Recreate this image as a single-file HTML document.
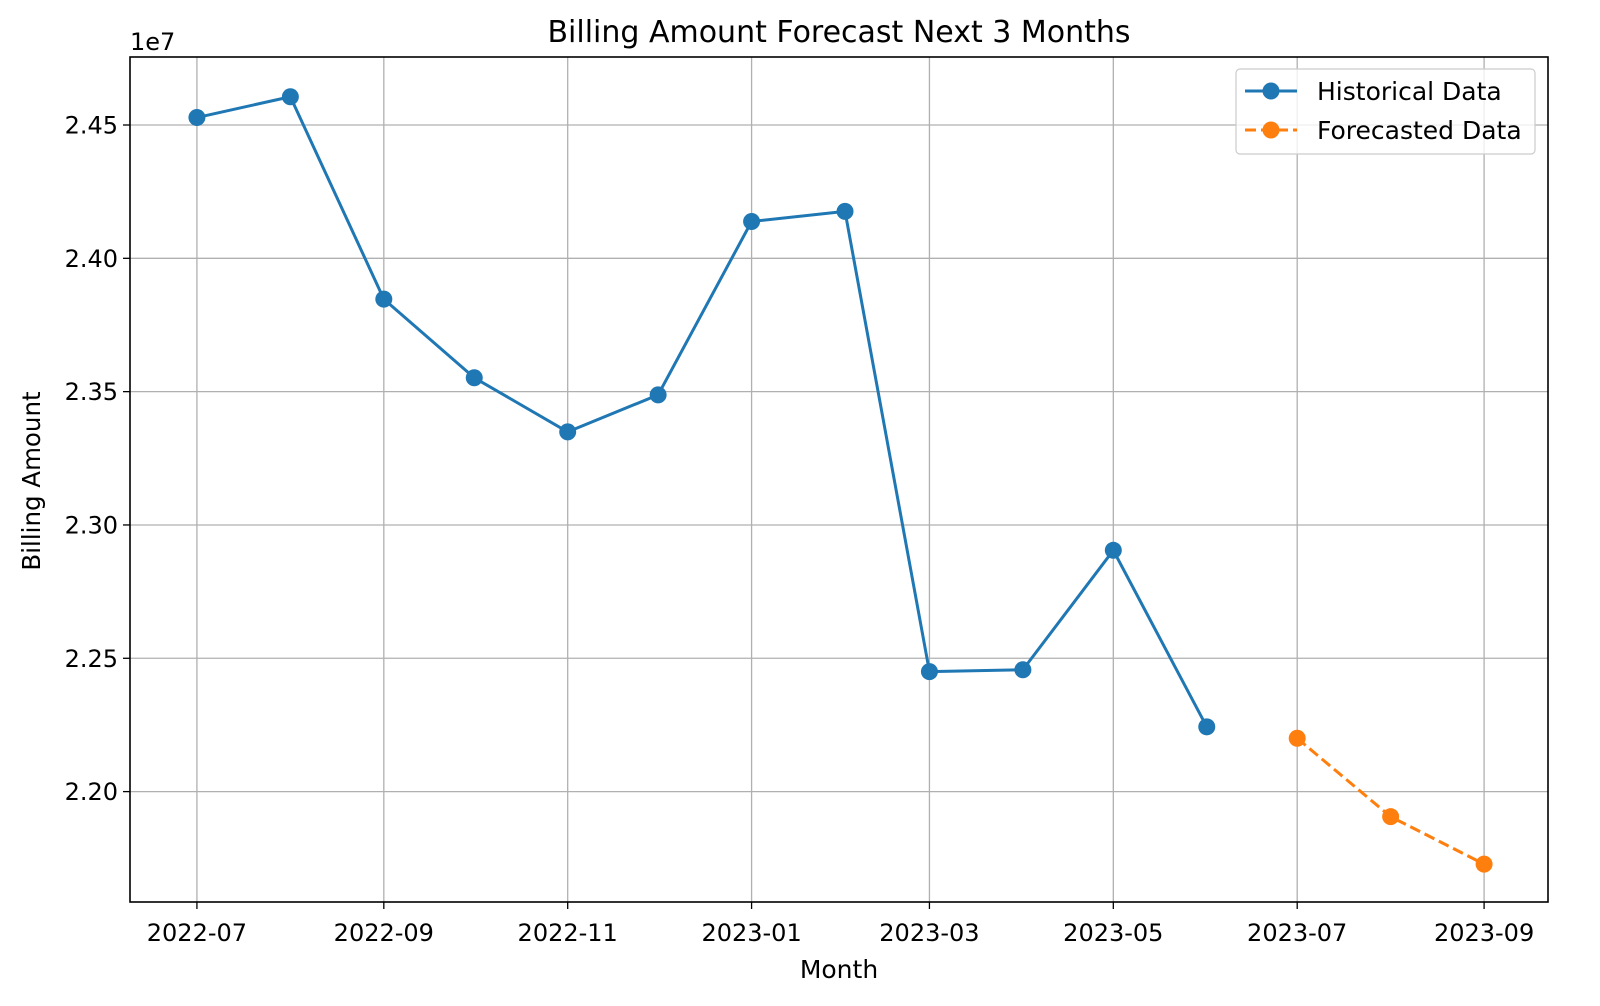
<!DOCTYPE html>
<html><head><meta charset="utf-8"><style>
html,body{margin:0;padding:0;background:#fff;}
svg{display:block;font-family:"DejaVu Sans","Liberation Sans",sans-serif;}
</style></head><body>
<svg id="chart" width="1600" height="1006" viewBox="0 0 1600 1006">
<rect width="1600" height="1006" fill="#fff"/>
<g id="grid"></g>
<g id="series"></g>
<rect x="130" y="57" width="1418" height="845" fill="none" stroke="#000" stroke-width="1.6"/>
<g id="ticks"></g>
<text x="839" y="42" font-size="30" text-anchor="middle" fill="#000">Billing Amount Forecast Next 3 Months</text>
<text x="130" y="50" font-size="24" fill="#000">1e7</text>
<text x="839" y="978" font-size="25" text-anchor="middle" fill="#000">Month</text>
<text transform="translate(40,481) rotate(-90)" font-size="24.5" text-anchor="middle" fill="#000">Billing Amount</text>
<g>
<rect x="1236" y="69" width="299" height="85" rx="4" fill="#fff" fill-opacity="0.8" stroke="#ccc" stroke-width="1.2"/>
<g>
<line x1="1245" y1="91" x2="1297" y2="91" stroke="#1f77b4" stroke-width="3"/>
<circle cx="1271" cy="91" r="8.5" fill="#1f77b4"/>
<text x="1317" y="100" font-size="25" fill="#000">Historical Data</text>
</g>
<g>
<line x1="1245" y1="130" x2="1297" y2="130" stroke="#ff7f0e" stroke-width="3" stroke-dasharray="11,5"/>
<circle cx="1271" cy="130" r="8.5" fill="#ff7f0e"/>
<text x="1317" y="139" font-size="25" fill="#000">Forecasted Data</text>
</g>
</g>
</svg>
<script>
const histDates = ["2022-07-01","2022-08-01","2022-09-01","2022-10-01","2022-11-01","2022-12-01","2023-01-01","2023-02-01","2023-03-01","2023-04-01","2023-05-01","2023-06-01"];
const histValues = [2.4528,2.4606,2.3847,2.3552,2.3349,2.3488,2.4138,2.4176,2.2450,2.2457,2.2905,2.2243];
const fcDates = ["2023-07-01","2023-08-01","2023-09-01"];
const fcValues = [2.2200,2.1906,2.1728];
const xTickLabels = ["2022-07","2022-09","2022-11","2023-01","2023-03","2023-05","2023-07","2023-09"];
const yTickValues = [2.20,2.25,2.30,2.35,2.40,2.45];

const NS = "http://www.w3.org/2000/svg";
const L=130,R=1548,T=57,B=902;
const t0 = Date.UTC(2022,6,1);
function days(s){const p=s.split("-");return (Date.UTC(+p[0],+p[1]-1,+(p[2]||1))-t0)/86400000;}
const xMin=-22.2,xMax=448.2,yMin=2.1586,yMax=2.4755;
function X(s){return L+(days(s)-xMin)/(xMax-xMin)*(R-L);}
function Y(v){return B-(v-yMin)/(yMax-yMin)*(B-T);}
function mk(tag,attrs,parent){const e=document.createElementNS(NS,tag);for(const k in attrs)e.setAttribute(k,attrs[k]);parent.appendChild(e);return e;}
const grid=document.getElementById("grid"),ticks=document.getElementById("ticks"),series=document.getElementById("series");

xTickLabels.forEach(lb=>{
  const x=X(lb+"-01");
  const g=mk("line",{x1:x,x2:x,y1:T,y2:B,stroke:"#b0b0b0","stroke-width":1.3},grid);
  
  
  const tk=mk("line",{x1:x,x2:x,y1:B,y2:B+7,stroke:"#000","stroke-width":1.3},ticks);
  
  
  const t=mk("text",{x:x,y:941,"font-size":24,"text-anchor":"middle",fill:"#000"},ticks);
  t.textContent=lb;
  
  
});
yTickValues.forEach(v=>{
  const y=Y(v);
  const g=mk("line",{x1:L,x2:R,y1:y,y2:y,stroke:"#b0b0b0","stroke-width":1.3},grid);
  
  
  const tk=mk("line",{x1:L-7,x2:L,y1:y,y2:y,stroke:"#000","stroke-width":1.3},ticks);
  
  
  const t=mk("text",{x:L-12,y:y+8.5,"font-size":24,"text-anchor":"end",fill:"#000"},ticks);
  t.textContent=v.toFixed(2);
  
  
});
function drawSeries(dates,vals,color,dash,name){
  const pts=dates.map((d,i)=>X(d)+","+Y(vals[i])).join(" ");
  const pl=mk("polyline",{points:pts,fill:"none",stroke:color,"stroke-width":3,"stroke-linejoin":"round"},series);
  if(dash)pl.setAttribute("stroke-dasharray",dash);
  
  
  dates.forEach((d,i)=>{
    const c=mk("circle",{cx:X(d),cy:Y(vals[i]),r:8.5,fill:color},series);
    
    
  });
}
drawSeries(histDates,histValues,"#1f77b4",null,"historical");
drawSeries(fcDates,fcValues,"#ff7f0e","11,5","forecast");
</script>
</body></html>
